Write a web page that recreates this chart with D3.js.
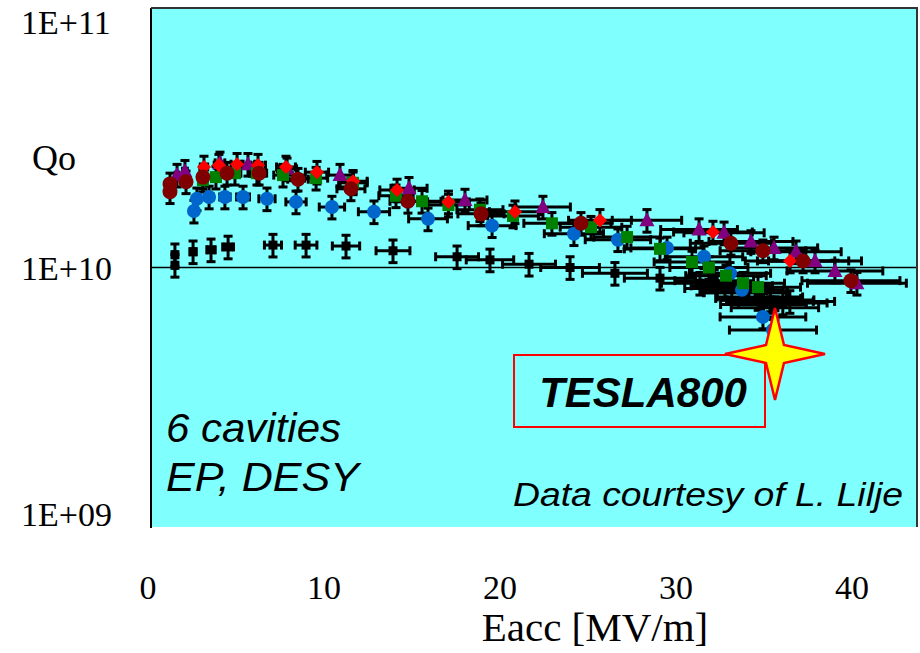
<!DOCTYPE html>
<html><head><meta charset="utf-8">
<script src="https://cdn.jsdelivr.net/npm/d3@7"></script>
<style>body{margin:0;background:#fff}svg{display:block}</style>
</head><body><svg id="c" width="920" height="653"></svg>
<script>
// ---------- data ----------
const xTicks = [0, 10, 20, 30, 40];
const yTicks = [1e9, 1e10, 1e11];
const yTickLabels = ["1E+09", "1E+10", "1E+11"];
const xTitle = "Eacc [MV/m]";
const yTitle = "Qo";

// Q values in units of 1e10
const blackE = [1.36, 1.36, 2.39, 3.41, 4.38, 6.93, 8.81, 11.08, 13.75, 17.39, 19.26, 21.48, 23.81, 26.36, 28.92, 31.19, 32.61, 33.75, 34.6, 35.17, 35.45];
const blackQ = [1.12, 1.02, 1.15, 1.17, 1.20, 1.22, 1.22, 1.21, 1.16, 1.10, 1.07, 1.03, 1.00, 0.95, 0.91, 0.87, 0.83, 0.80, 0.77, 0.74, 0.70];

const black2E = [32.0, 33.0, 33.8, 34.5, 35.2, 35.9, 34.8, 36.3];
const black2Q = [0.89, 0.85, 0.80, 0.76, 0.75, 0.73, 0.72, 0.74];

const blueE = [2.44, 2.61, 3.30, 4.20, 5.23, 6.59, 8.24, 10.28, 12.67, 15.74, 19.38, 24.03, 26.53, 29.32, 31.42, 32.9, 33.58, 34.77, 35.34];
const blueQ = [1.65, 1.84, 1.87, 1.87, 1.87, 1.84, 1.79, 1.71, 1.64, 1.54, 1.45, 1.35, 1.28, 1.19, 1.10, 0.95, 0.82, 0.645, 0.574];

const purpleE = [1.48, 1.93, 3.92, 5.51, 7.73, 10.74, 14.66, 17.84, 22.27, 28.18, 31.14, 32.56, 34.09, 35.40, 36.65, 37.73, 38.86, 40.11];
const purpleQ = [2.27, 2.35, 2.53, 2.50, 2.40, 2.27, 2.02, 1.82, 1.71, 1.52, 1.40, 1.36, 1.26, 1.19, 1.15, 1.06, 0.97, 0.87];

const greenE = [2.95, 3.69, 4.77, 6.02, 7.50, 9.38, 11.48, 13.92, 15.40, 16.9, 18.69, 20.57, 22.78, 25.0, 27.05, 28.92, 30.74, 31.70, 32.67, 33.64, 34.49];
const greenQ = [2.17, 2.23, 2.31, 2.31, 2.27, 2.21, 2.12, 1.89, 1.80, 1.74, 1.67, 1.58, 1.48, 1.43, 1.31, 1.18, 1.05, 1.00, 0.93, 0.87, 0.84];

const redE = [3.01, 3.86, 4.89, 6.08, 7.67, 9.43, 11.48, 13.98, 16.9, 20.68, 25.51, 31.93, 36.31];
const redQ = [2.44, 2.48, 2.50, 2.48, 2.44, 2.33, 2.15, 1.99, 1.79, 1.64, 1.52, 1.37, 1.06];

const darkredE = [1.08, 1.08, 1.99, 2.95, 4.32, 6.14, 8.35, 11.36, 14.60, 18.75, 24.43, 32.95, 34.77, 37.05, 39.77];
const darkredQ = [2.10, 1.96, 2.14, 2.23, 2.31, 2.31, 2.19, 2.01, 1.80, 1.61, 1.48, 1.24, 1.16, 1.06, 0.89];

const xErrFrac = 0.07;   // relative error in Eacc
const yErrFrac = 0.10;   // relative error in Qo

const series = [
  {E: blackE,   Q: blackQ,   color: "#000000", shape: "square", size: 9},
  {E: black2E,  Q: black2Q,  color: "#000000", shape: "square", size: 9},
  {E: blueE,    Q: blueQ,    color: "#0066cc", shape: "circle", size: 7},
  {E: purpleE,  Q: purpleQ,  color: "#800080", shape: "triangle", size: 15},
  {E: greenE,   Q: greenQ,   color: "#008000", shape: "square", size: 12},
  {E: redE,     Q: redQ,     color: "#ff0000", shape: "diamond", size: 10},
  {E: darkredE, Q: darkredQ, color: "#800000", shape: "circle", size: 7.5}
];

// ---------- layout ----------
const svg = d3.select("#c");
const L = 151, R = 918, T = 8, B = 527;
const x = d3.scaleLinear().domain([0, 43.58]).range([L, R]);
const y = d3.scaleLog().domain([1e9, 1e11]).range([B, T]);

svg.append("rect").attr("x", L).attr("y", T).attr("width", R - L).attr("height", B - T).attr("fill", "#80ffff");

const plot = svg.append("g");
svg.append("clipPath").attr("id", "pc").append("rect").attr("x", L).attr("y", T).attr("width", R - L).attr("height", B - T);
plot.attr("clip-path", "url(#pc)");

// gridline at 1E+10
plot.append("line").attr("x1", L).attr("x2", R).attr("y1", y(1e10)).attr("y2", y(1e10))
  .attr("stroke", "#000").attr("stroke-width", 1.6);

// error bars
const eb = plot.append("g").attr("stroke", "#000").attr("stroke-width", 3).attr("fill", "none");
series.forEach(s => {
  s.E.forEach((e, i) => {
    const q = s.Q[i] * 1e10;
    const cx = x(e), cy = y(q);
    const y1 = y(q * (1 + yErrFrac)), y2 = y(q * (1 - yErrFrac));
    const x1 = x(e * (1 - xErrFrac)), x2 = x(e * (1 + xErrFrac));
    eb.append("line").attr("x1", cx).attr("x2", cx).attr("y1", y1).attr("y2", y2);
    eb.append("line").attr("x1", cx - 4.5).attr("x2", cx + 4.5).attr("y1", y1).attr("y2", y1);
    eb.append("line").attr("x1", cx - 4.5).attr("x2", cx + 4.5).attr("y1", y2).attr("y2", y2);
    eb.append("line").attr("x1", x1).attr("x2", x2).attr("y1", cy).attr("y2", cy);
    eb.append("line").attr("x1", x1).attr("x2", x1).attr("y1", cy - 4.5).attr("y2", cy + 4.5);
    eb.append("line").attr("x1", x2).attr("x2", x2).attr("y1", cy - 4.5).attr("y2", cy + 4.5);
  });
});

// markers
series.forEach(s => {
  const g = plot.append("g").attr("fill", s.color);
  s.E.forEach((e, i) => {
    const cx = x(e), cy = y(s.Q[i] * 1e10);
    const k = s.size;
    if (s.shape === "square") {
      g.append("rect").attr("x", cx - k / 2).attr("y", cy - k / 2).attr("width", k).attr("height", k);
    } else if (s.shape === "circle") {
      g.append("circle").attr("cx", cx).attr("cy", cy).attr("r", k);
    } else if (s.shape === "diamond") {
      g.append("rect").attr("x", -k / 2).attr("y", -k / 2).attr("width", k).attr("height", k)
        .attr("transform", `translate(${cx},${cy}) rotate(45)`);
    } else if (s.shape === "triangle") {
      g.append("path").attr("d", `M${cx},${cy - k * 0.55}L${cx + k / 2},${cy + k * 0.4}L${cx - k / 2},${cy + k * 0.4}Z`);
    }
  });
});

// frame
svg.append("line").attr("x1", L).attr("x2", L).attr("y1", T).attr("y2", B + 1).attr("stroke", "#000").attr("stroke-width", 2);
svg.append("line").attr("x1", L).attr("x2", R).attr("y1", T).attr("y2", T).attr("stroke", "#333").attr("stroke-width", 2);
svg.append("line").attr("x1", R - 1).attr("x2", R - 1).attr("y1", T).attr("y2", B).attr("stroke", "#333").attr("stroke-width", 2);

// axis labels
const serif = "'Liberation Serif','Times New Roman',serif";
svg.append("g").selectAll("text").data(yTicks).join("text")
  .attr("x", 21)
  .attr("y", d => Math.min(Math.max(y(d), 22), 514) + 12)
  .attr("font-family", serif).attr("font-size", 34).attr("fill", "#000")
  .text((d, i) => yTickLabels[i]);

svg.append("g").selectAll("text").data(xTicks).join("text")
  .attr("x", d => x(d) - 3).attr("y", 599)
  .attr("text-anchor", "middle")
  .attr("font-family", serif).attr("font-size", 34).attr("fill", "#000")
  .text(d => d);

svg.append("text").attr("x", 595).attr("y", 641).attr("text-anchor", "middle")
  .attr("font-family", serif).attr("font-size", 41).attr("fill", "#000").text(xTitle);

svg.append("text").attr("x", 32).attr("y", 170)
  .attr("font-family", serif).attr("font-size", 36).attr("fill", "#000").text(yTitle);

// annotations
const sans = "'Liberation Sans',Arial,sans-serif";
svg.append("text").attr("x", 166).attr("y", 442).attr("font-family", sans).attr("font-style", "italic")
  .attr("font-size", 40).attr("textLength", 175).attr("lengthAdjust", "spacingAndGlyphs").text("6 cavities");
svg.append("text").attr("x", 166).attr("y", 491).attr("font-family", sans).attr("font-style", "italic")
  .attr("font-size", 40).attr("textLength", 193).attr("lengthAdjust", "spacingAndGlyphs").text("EP, DESY");
svg.append("text").attr("x", 513).attr("y", 506).attr("font-family", sans).attr("font-style", "italic")
  .attr("font-size", 33).attr("textLength", 390).attr("lengthAdjust", "spacingAndGlyphs").text("Data courtesy of L. Lilje");

// TESLA800 box and star
svg.append("rect").attr("x", 514).attr("y", 355).attr("width", 251).attr("height", 72)
  .attr("fill", "none").attr("stroke", "#ff0000").attr("stroke-width", 2);
svg.append("text").attr("x", 643).attr("y", 407).attr("text-anchor", "middle")
  .attr("font-family", sans).attr("font-style", "italic").attr("font-weight", "bold")
  .attr("font-size", 42).text("TESLA800");

const sc = [775, 354];
const starPts = [[0, -46], [9, -9], [50, 0], [9, 9], [0, 46], [-9, 9], [-50, 0], [-9, -9]]
  .map(p => [sc[0] + p[0], sc[1] + p[1]]);
svg.append("path").attr("d", d3.line().curve(d3.curveLinearClosed)(starPts))
  .attr("fill", "#ffff00").attr("stroke", "#ff0000").attr("stroke-width", 2.5).attr("stroke-linejoin", "miter");
</script>
</body></html>
